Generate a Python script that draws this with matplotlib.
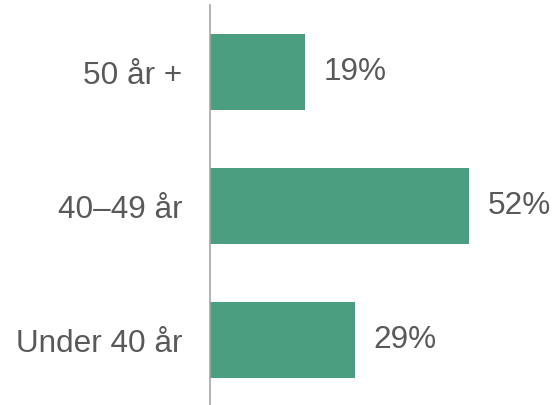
import matplotlib
matplotlib.use("Agg")
import matplotlib.pyplot as plt

# data
categories = ["Under 40 år", "40–49 år", "50 år +"]
values = [29, 52, 19]
value_labels = ["29%", "52%", "19%"]

plt.rcParams["font.family"] = ["Liberation Sans", "DejaVu Sans"]

fig = plt.figure(figsize=(5.54, 4.05), dpi=100)
ax = fig.add_axes([210 / 554, 0, 1 - 210 / 554, 400 / 405])

pos = range(len(categories))
ax.barh(pos, values, height=0.567, color="#4C9E80")

for y, v, lab in zip(pos, values, value_labels):
    ax.text(v + 3.8, y, lab, va="center", ha="left", fontsize=22.7, color="#595959")

ax.set_xlim(0, 69)
ax.set_ylim(-0.485, 2.5)
ax.set_yticks(list(pos))
ax.set_yticklabels(categories, fontsize=22.7, color="#595959")
ax.tick_params(axis="y", length=0, pad=20)
ax.set_xticks([])

for side in ["top", "right", "bottom"]:
    ax.spines[side].set_visible(False)
ax.spines["left"].set_color("#A6A6A6")
ax.spines["left"].set_linewidth(1.2)

fig.savefig("out.png", dpi=100)
